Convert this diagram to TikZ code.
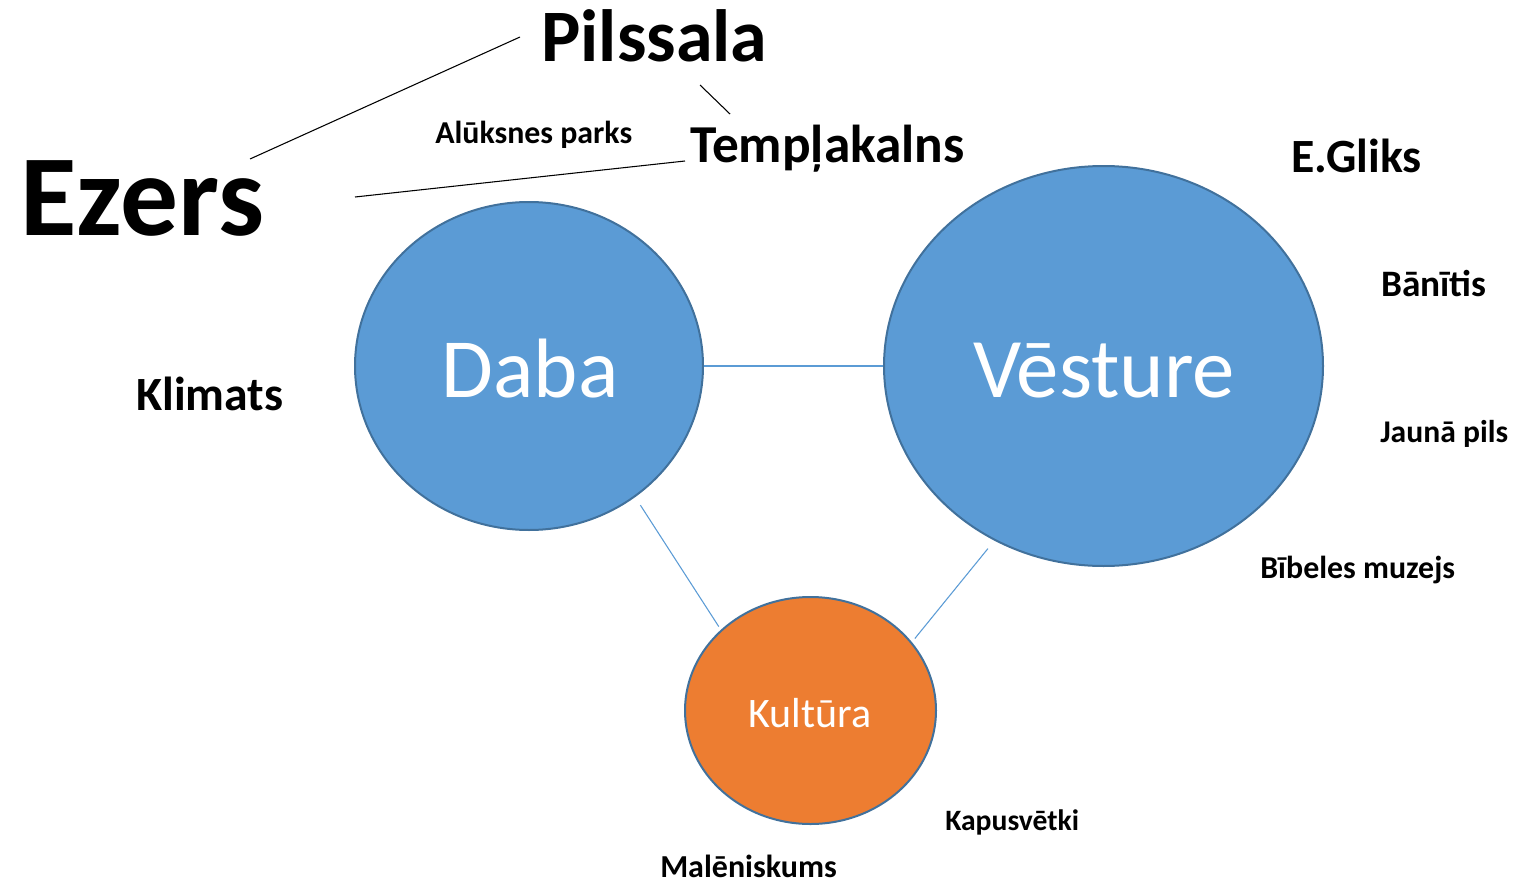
\documentclass[tikz,border=0pt]{standalone}
\usepackage{fontspec}
\setmainfont{Carlito}
\usetikzlibrary{shapes.geometric}
\definecolor{topicblue}{HTML}{5B9BD5}
\definecolor{topicedge}{HTML}{41719C}
\definecolor{topicorange}{HTML}{ED7D31}
\newcommand{\sz}[1]{\fontsize{#1}{#1}\selectfont}
\begin{document}
\begin{tikzpicture}[x=0.75pt,y=-0.75pt,
  topic/.style={ellipse,draw=topicedge,line width=1.5pt,inner sep=0pt},
  toptext/.style={text=white,anchor=base,inner sep=0pt},
  word/.style={font=\bfseries,anchor=base west,inner sep=0pt},
  link/.style={draw=topicblue,line width=0.8pt},
  thread/.style={draw=black,line width=0.8pt}]
\useasboundingbox (0,0) rectangle (1517,881);

% three topic ellipses
\node[topic,fill=topicblue,minimum width=348*0.75pt,minimum height=328*0.75pt] (daba) at (529,366) {};
\node[topic,fill=topicblue,minimum width=439*0.75pt,minimum height=400*0.75pt] (vesture) at (1103.5,366) {};
\node[topic,fill=topicorange,minimum width=251*0.75pt,minimum height=227*0.75pt] (kultura) at (810.5,710.5) {};

\node[toptext,font=\sz{63.2pt}] (dabat) at (530,397) {Daba};
\node[toptext,font=\sz{63.6pt}] (vesturet) at (1104,397) {Vēsture};
\node[toptext,font=\sz{31.5pt}] (kulturat) at (810,727) {Kultūra};

% links between topics
\draw[link] (daba.east) -- (vesture.west);
\draw[link,shorten <=7.2pt,shorten >=2.8pt] (daba.-51.85) -- (kultura.138.2);
\draw[link,shorten <=7.7pt,shorten >=3.5pt] (vesture.238.9) -- (kultura.34.1);

% keywords
\node[word,font=\bfseries\sz{55.5pt}] (pilssala) at (541,62) {Pilssala};
\node[word,font=\bfseries\sz{86.6pt}] (ezers) at (20,235) {Ezers};
\node[word,font=\bfseries\sz{40pt}] (templ) at (690,162) {Tempļakalns};
\node[word,font=\bfseries\sz{23.9pt}] (parks) at (435,143) {Alūksnes parks};
\node[word,font=\bfseries\sz{35.8pt}] (gliks) at (1291,172) {E.Gliks};
\node[word,font=\bfseries\sz{28pt}] (banitis) at (1381,296) {Bānītis};
\node[word,font=\bfseries\sz{23.7pt}] (jpils) at (1380,442) {Jaunā pils};
\node[word,font=\bfseries\sz{23.9pt}] (bibele) at (1260,578) {Bībeles muzejs};
\node[word,font=\bfseries\sz{35.8pt}] (klimats) at (136,410) {Klimats};
\node[word,font=\bfseries\sz{22.2pt}] (kapus) at (945,830) {Kapusvētki};
\node[word,font=\bfseries\sz{24pt}] (malen) at (660,877) {Malēniskums};

% ends of the black threads between keywords
\coordinate (ezA) at (250,159);
\coordinate (piA) at (520,37);
\coordinate (ezB) at (355,197);
\coordinate (teB) at (685,161);
\coordinate (piC) at (700,85);
\coordinate (teC) at (730,114);
\draw[thread] (ezA) -- (piA);
\draw[thread] (ezB) -- (teB);
\draw[thread] (piC) -- (teC);
\end{tikzpicture}
\end{document}
